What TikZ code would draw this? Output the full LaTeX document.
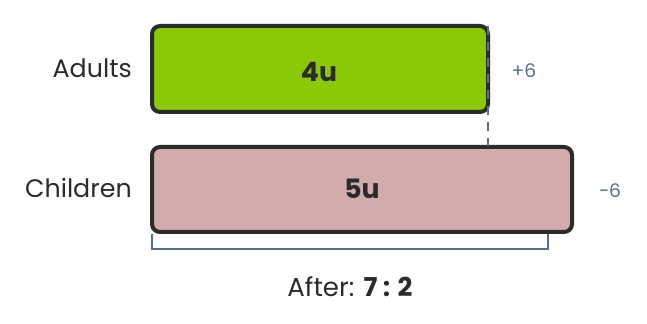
\documentclass[tikz,border=0pt]{standalone}
\usepackage{fontspec}
\setmainfont{Poppins}
\definecolor{adultgreen}{HTML}{8BC806}
\definecolor{childpink}{HTML}{D2ACAC}
\definecolor{edge}{HTML}{2B2B2B}
\definecolor{slate}{HTML}{546F92}
\begin{document}
\begin{tikzpicture}[x=0.75pt,y=-0.75pt,
  bar/.style={draw=edge,line width=3pt,rounded corners=6pt},
  lab/.style={font=\fontsize{19}{22}\selectfont,text=edge,anchor=base east,inner sep=0},
  val/.style={font=\fontsize{20}{24}\selectfont\bfseries,text=edge,anchor=base,inner sep=0},
  delta/.style={font=\fontsize{14}{17}\selectfont,text=slate,anchor=base,inner sep=0},
  guide/.style={draw=slate,line width=1.5pt}]
\useasboundingbox (0,0) rectangle (647,324);
\path[bar,fill=adultgreen] (152,26) rectangle (488,112);
\path[bar,fill=childpink] (152,147) rectangle (572,232);
\draw[guide,dashed,dash pattern=on 7pt off 5pt] (488,26) -- (488,146);
\coordinate (bl) at (152,234);
\coordinate (br) at (548,234);
\draw[guide] (bl) -- ++(0,15) -| (br);
\node[lab] (adults) at (132,78) {Adults};
\node[lab] (children) at (132,198) {Children};
\node[val] (a) at (319,82) {4u};
\node[val] (c) at (362,199) {5u};
\node[delta] (p) at (524,78) {+6};
\node[delta] (m) at (610,198) {−6};
\node[font=\fontsize{19.5}{22}\selectfont,text=edge,anchor=base,inner sep=0] (after) at (350,297) {After: \textbf{7 : 2}};
\end{tikzpicture}
\end{document}
